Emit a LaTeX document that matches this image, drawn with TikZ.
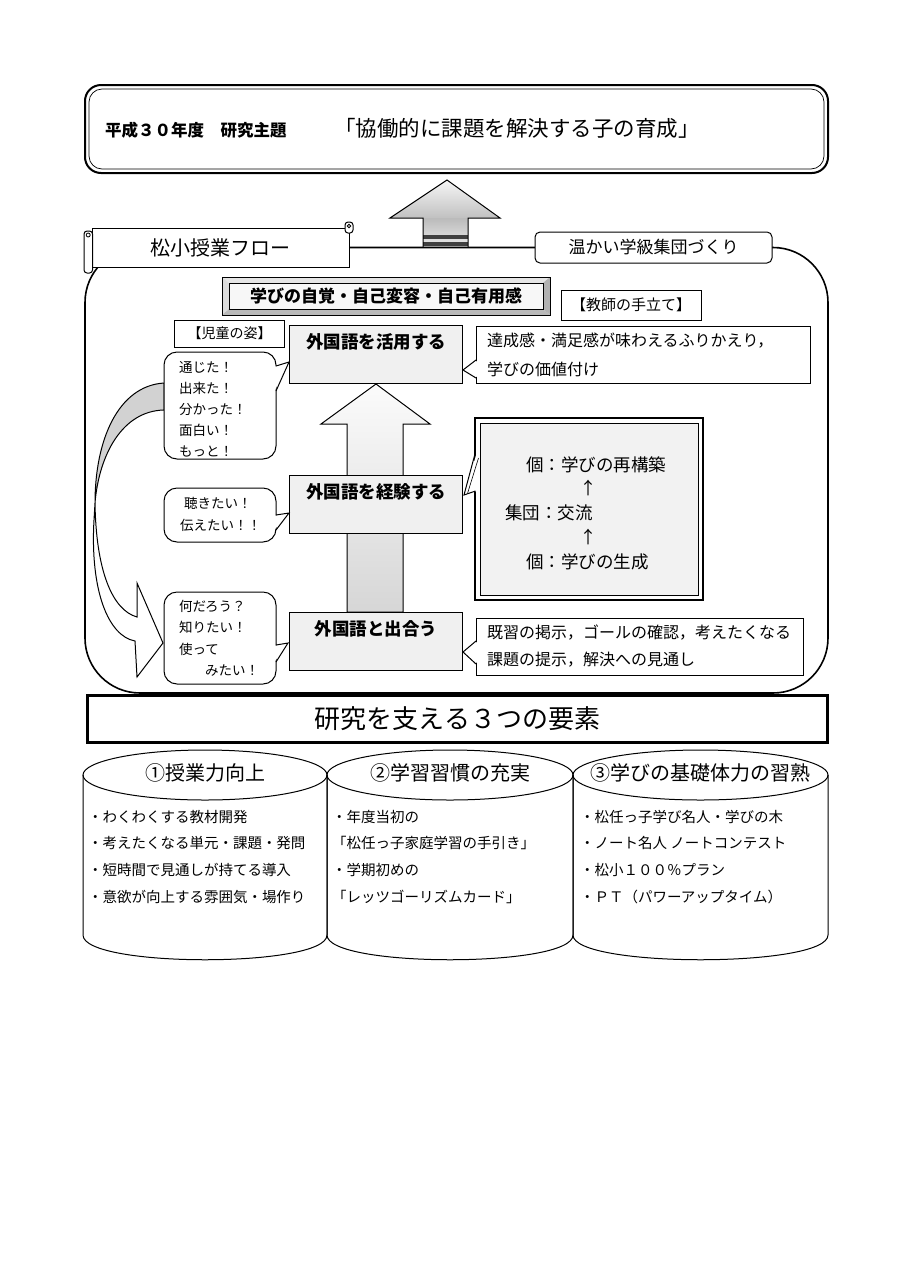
\documentclass[tikz,border=0pt]{standalone}
\usepackage{fontspec}
\setmainfont{Noto Sans CJK JP}
\newcommand\fs[1]{\fontsize{#1}{#1}\selectfont}
\newcommand\tailR[5]{\fill[white] (#1-1.2,#2+0.8) -- (#3,#4) -- (#1-1.2,#5-0.8) -- cycle; \draw[line width=1pt] (#1,#2) -- (#3,#4) -- (#1,#5);}
\newcommand\tailL[5]{\fill[white] (#1+1.2,#2+0.8) -- (#3,#4) -- (#1+1.2,#5-0.8) -- cycle; \draw[line width=1pt] (#1,#2) -- (#3,#4) -- (#1,#5);}
\begin{document}
\begin{tikzpicture}[x=1pt,y=-1pt,
  every node/.style={inner sep=0pt, outer sep=0pt},
  flowbox/.style={draw, line width=1pt, fill=gray!12, minimum width=173pt, minimum height=58pt},
  flowtxt/.style={font=\bfseries\fs{17.5}},
  bubble/.style={draw, line width=1pt, fill=white, rounded corners=13pt, minimum width=112pt},
  btxt/.style={font=\fontsize{13.5}{21}\selectfont, align=left, anchor=west},
  callout/.style={draw, line width=1pt, fill=white},
  ctxt/.style={font=\fs{16}, anchor=west},
  lbl/.style={draw, line width=1pt, fill=white},
  cyl/.style={line width=1pt},
  ctitle/.style={font=\fs{20}},
  citem/.style={font=\fs{14.5}, anchor=west},
  rtxt/.style={font=\fs{17.5}, anchor=west},
]
\useasboundingbox (0,0) rectangle (905,1280);
\fill[white] (0,0) rectangle (905,1280);

% ---------- theme box ----------
\node[draw, line width=2pt, rounded corners=16pt, minimum width=743pt, minimum height=88pt] (theme) at (456.5,129) {};
\node[draw, line width=0.7pt, rounded corners=13pt, minimum width=735pt, minimum height=80pt] (themein) at (theme.center) {};
\node[anchor=west, font=\bfseries\fs{16.5}] (themelbl) at (105,130) {平成３０年度　研究主題};
\node[anchor=west, font=\fs{21.5}] (themetxt) at (334,128) {「協働的に課題を解決する子の育成」};

% ---------- top arrow ----------
\begin{scope}
  \clip (447,180) -- (500,218) -- (390,218) -- cycle;
  \shade[top color=gray!5, bottom color=gray!50] (388,178) rectangle (502,219);
\end{scope}
\begin{scope}
  \clip (423,218) rectangle (468,247);
  \shade[top color=gray!55, bottom color=gray!15] (421,217) rectangle (470,248);
\end{scope}
\fill[black!75] (423,235) rectangle (468,238.5);
\fill[black!75] (423,242) rectangle (468,246);
\draw[line width=1pt, line join=miter] (423,247) -- (423,218) -- (390,218) -- (447,180) -- (500,218) -- (468,218) -- (468,247);

% ---------- frame ----------
\draw[line width=1.6pt, rounded corners=55pt] (85,247.5) rectangle (828,693);

% ---------- scroll banner ----------
\node[draw, line width=1pt, fill=white, minimum width=257pt, minimum height=39pt, font=\fs{20}] (flow) at (220.5,247.5) {松小授業フロー};
\draw[line width=1pt, fill=white, rounded corners=3pt] (84,231) rectangle (92.5,273);
\draw[line width=0.8pt] (88.2,235) circle (2);
\draw[line width=1pt, fill=white, rounded corners=3pt] (345,222) rectangle (353,233);
\draw[line width=0.8pt] (349,226) circle (1.8);

\node[draw, line width=1pt, rounded corners=5pt, fill=white, minimum width=237pt, minimum height=31pt, font=\fs{17}] (warm) at (653.5,247.5) {温かい学級集団づくり};
\draw[line width=1.6pt] (flow.east) -- (warm.west);

% ---------- bevel box ----------
\fill[gray!20] (222,277) -- (550,277) -- (543,283) -- (229,283) -- cycle;
\fill[gray!28] (222,277) -- (229,283) -- (229,309) -- (222,315) -- cycle;
\fill[gray!60] (550,277) -- (550,315) -- (543,309) -- (543,283) -- cycle;
\fill[gray!55] (222,315) -- (550,315) -- (543,309) -- (229,309) -- cycle;
\draw[line width=1pt] (222,277) rectangle (550,315);
\node[draw, line width=0.8pt, fill=gray!6, minimum width=314pt, minimum height=26pt, font=\bfseries\fs{17}] (aware) at (386,296) {学びの自覚・自己変容・自己有用感};

\node[lbl, minimum width=140pt, minimum height=30pt, font=\fs{15}] (teacher) at (631,305) {【教師の手立て】};
\node[lbl, minimum width=110pt, minimum height=27pt, font=\fs{14}] (child) at (229.5,333.5) {【児童の姿】};

% ---------- big up arrow ----------
\shade[top color=gray!3, middle color=gray!10, bottom color=gray!32, draw, line width=1pt] (376,384) -- (430,424) -- (403,424) -- (403,612) -- (347,612) -- (347,424) -- (321,424) -- cycle;

% ---------- flow boxes ----------
\node[flowbox] (act) at (376,354) {};
\node[flowtxt] (actt) at ([yshift=-17pt]act.north) {外国語を活用する};
\node[flowbox] (exp) at (376,504) {};
\node[flowtxt] (expt) at ([yshift=-17pt]exp.north) {外国語を経験する};
\node[flowbox] (meet) at (376,641) {};
\node[flowtxt] (meett) at ([yshift=-17pt]meet.north) {外国語と出合う};

% ---------- curved arrow ----------
\draw[line width=1pt, fill=gray!35] (164,383) .. controls (118,386) and (95,440) .. (95,503) .. controls (99,455) and (122,411) .. (164,410) -- cycle;
\draw[line width=1pt, fill=white, line join=miter] (95,503) .. controls (96,570) and (112,610) .. (137,617) -- (137,583) -- (163,643) -- (137,677) -- (135,641) .. controls (108,636) and (90,590) .. (94,520) -- cycle;

% ---------- bubbles ----------
\node[bubble, minimum height=107pt] (b1) at (220,405.5) {};
\tailR{276}{366}{289}{362}{391}
\node[btxt] (b1t) at (179,409) {通じた！\\出来た！\\分かった！\\面白い！\\もっと！};

\node[bubble, minimum height=54pt] (b2) at (220,515) {};
\tailR{276}{515}{289}{513}{530}
\node[btxt, font=\fontsize{13.5}{22}\selectfont] (b2t) at (180,514) {\hspace*{4pt}聴きたい！\\伝えたい！！};

\node[bubble, minimum height=92pt] (b3) at (220,638) {};
\tailR{276}{645}{288}{643}{662}
\node[btxt, font=\fontsize{13.5}{21.5}\selectfont] (b3t) at (179,638) {何だろう？\\知りたい！\\使って\\\hspace*{26pt}みたい！};

% ---------- teacher callouts ----------
\node[callout, minimum width=334pt, minimum height=57pt] (tc1) at (643,354.5) {};
\tailL{476}{360}{463}{370}{378}
\node[ctxt] (tc1a) at (487,341) {達成感・満足感が味わえるふりかえり，};
\node[ctxt] (tc1b) at (487,369) {学びの価値付け};

\node[callout, minimum width=327pt, minimum height=57pt] (tc3) at (640,646.5) {};
\tailL{476}{641}{463}{652}{664}
\node[ctxt] (tc3a) at (487,633) {既習の掲示，ゴールの確認，考えたくなる};
\node[ctxt] (tc3b) at (487,660) {課題の提示，解決への見通し};

% ---------- individual / group box ----------
\node[draw, line width=2pt, fill=white, minimum width=228pt, minimum height=182pt] (ind) at (589,509) {};
\node[draw, line width=0.8pt, fill=gray!10, minimum width=218pt, minimum height=172pt] (indin) at (ind.center) {};
\fill[white] (477,452) -- (464,495) -- (477,491) -- cycle;
\draw[line width=1pt] (475.5,452) -- (464,495) -- (475.5,491);
\draw[line width=0.6pt] (478.5,458) -- (467.5,493.5);
\node[rtxt] (r1) at (526,465) {個：学びの再構築};
\node[font=\fs{17}] (ar1) at (588,488) {↑};
\node[rtxt] (r2) at (505,513) {集団：交流};
\node[font=\fs{17}] (ar2) at (588,537) {↑};
\node[rtxt] (r3) at (526,562) {個：学びの生成};

% ---------- three elements ----------
\node[draw, line width=2.5pt, fill=white, minimum width=740pt, minimum height=47pt, font=\fs{26}] (three) at (457.5,719) {研究を支える３つの要素};

\foreach \xa/\xb in {83/327, 327/573, 573/828} {
  \draw[cyl] (\xa,775) -- (\xa,935) .. controls (\xa,968) and (\xb,968) .. (\xb,935) -- (\xb,775);
  \draw[cyl] ({(\xa+\xb)/2},775) ellipse ({(\xb-\xa)/2} and 25);
}
\node[ctitle] (c1t) at (205,773) {①授業力向上};
\node[ctitle] (c2t) at (450,773) {②学習習慣の充実};
\node[ctitle] (c3t) at (700.5,773) {③学びの基礎体力の習熟};

\node[citem] (c1a) at (88,817) {・わくわくする教材開発};
\node[citem] (c1b) at (88,843) {・考えたくなる単元・課題・発問};
\node[citem] (c1c) at (88,870) {・短時間で見通しが持てる導入};
\node[citem] (c1d) at (88,897) {・意欲が向上する雰囲気・場作り};

\node[citem] (c2a) at (332,817) {・年度当初の};
\node[citem] (c2b) at (332,843) {「松任っ子家庭学習の手引き」};
\node[citem] (c2c) at (332,870) {・学期初めの};
\node[citem] (c2d) at (332,897) {「レッツゴーリズムカード」};

\node[citem] (c3a) at (580,817) {・松任っ子学び名人・学びの木};
\node[citem] (c3b) at (580,843) {・ノート名人 ノートコンテスト};
\node[citem] (c3c) at (580,870) {・松小１００％プラン};
\node[citem] (c3d) at (580,897) {・ＰＴ（パワーアップタイム）};
\end{tikzpicture}
\end{document}
